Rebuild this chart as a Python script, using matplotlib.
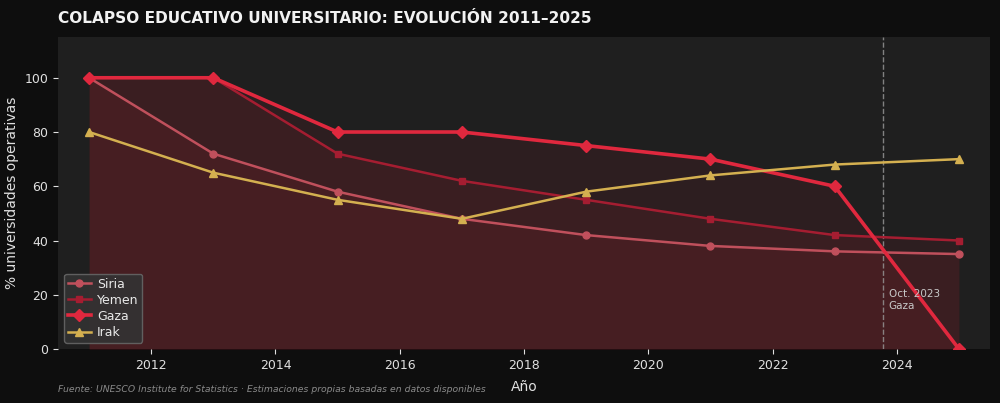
import matplotlib
matplotlib.use("Agg")
import matplotlib.pyplot as plt

years = [2011, 2013, 2015, 2017, 2019, 2021, 2023, 2025]
siria = [100, 72, 58, 48, 42, 38, 36, 35]
yemen = [100, 100, 72, 62, 55, 48, 42, 40]
gaza = [100, 100, 80, 80, 75, 70, 60, 0]
irak = [80, 65, 55, 48, 58, 64, 68, 70]

series = [
    ("Siria", siria, "#c0505c", "o", 1.8, 5, True),
    ("Yemen", yemen, "#a51d31", "s", 1.8, 5, True),
    ("Gaza", gaza, "#e0283e", "D", 2.6, 6.5, True),
    ("Irak", irak, "#d4b050", "^", 1.8, 5.5, False),
]

fig = plt.figure(figsize=(10, 4.03), dpi=100, facecolor="#0e0e0e")
ax = fig.add_axes([0.058, 0.134, 0.932, 0.774])
ax.set_facecolor("#1f1f1f")

for name, vals, col, mk, lw, ms, fill in series:
    if fill:
        ax.fill_between(years, 0, vals, color="#b01e30", alpha=0.10, linewidth=0)
    ax.plot(years, vals, color=col, marker=mk, linewidth=lw, markersize=ms, label=name, zorder=3)

ax.axvline(2023.78, color="#9a9a9a", linestyle="--", linewidth=1, alpha=0.8)
ax.text(2023.87, 14, "Oct. 2023\nGaza", color="#c8c8c8", fontsize=7.5, va="bottom", ha="left")

ax.set_xlim(2010.5, 2025.5)
ax.set_ylim(0, 115)
ax.set_xticks([2012, 2014, 2016, 2018, 2020, 2022, 2024])
ax.set_yticks([0, 20, 40, 60, 80, 100])
ax.tick_params(colors="#e0e0e0", labelsize=9)
for s in ax.spines.values():
    s.set_visible(False)

ax.set_xlabel("Año", color="#e0e0e0", fontsize=10, labelpad=6)
ax.set_ylabel("% universidades operativas", color="#e0e0e0", fontsize=10)

fig.text(0.058, 0.942, "COLAPSO EDUCATIVO UNIVERSITARIO: EVOLUCIÓN 2011–2025",
         color="#f2f2f2", fontsize=11.1, fontweight="bold", ha="left", va="baseline")
fig.text(0.058, 0.022, "Fuente: UNESCO Institute for Statistics · Estimaciones propias basadas en datos disponibles",
         color="#8a8a8a", fontsize=6.7, style="italic", ha="left", va="bottom")

leg = ax.legend(loc="lower left", fontsize=9, facecolor="#333333", edgecolor="#666666",
                labelcolor="#e8e8e8", framealpha=0.9, borderpad=0.3, handlelength=1.8,
                labelspacing=0.25, handletextpad=0.5)

fig.savefig("out.png", dpi=100, facecolor=fig.get_facecolor())
